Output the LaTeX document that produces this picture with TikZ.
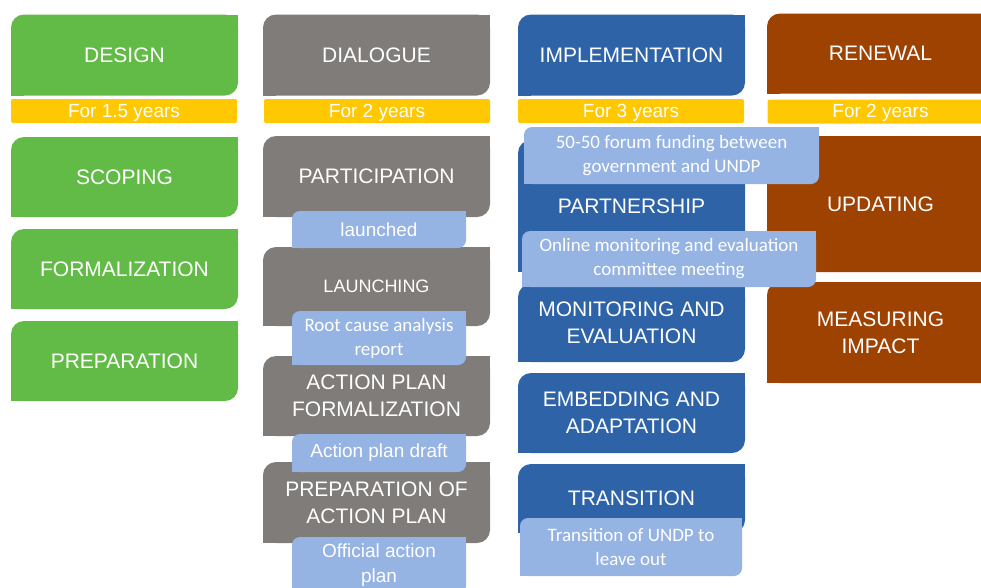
\documentclass[tikz,border=0pt]{standalone}
\usepackage{fontspec}
\setmainfont{Liberation Sans}
\newfontfamily\calib{Carlito}
\definecolor{cgreen}{HTML}{63BB47}
\definecolor{cgray}{HTML}{807C7A}
\definecolor{cblue}{HTML}{2E63A8}
\definecolor{cbrown}{HTML}{9E4202}
\definecolor{cyellow}{HTML}{FFC800}
\definecolor{clight}{HTML}{95B3E3}
\begin{document}
\begin{tikzpicture}[x=1pt,y=-1pt,
  diag/.style 2 args={path picture={
    \fill[#1, rounded corners=#2] (path picture bounding box.south west) rectangle (path picture bounding box.north east);
    \fill[#1] (path picture bounding box.south west) rectangle ++(#2,#2);
    \fill[#1] (path picture bounding box.north east) rectangle ++(-#2,-#2);
  }},
  box/.style={diag={#1}{13pt}, inner sep=0pt, minimum width=227pt, text=white, align=center,
    font=\fontsize{21}{27}\selectfont},
  bar/.style={fill=cyellow, rounded corners=2pt, inner sep=0pt, minimum width=226pt,
    text height=15pt, text depth=3pt, minimum height=24pt,
    text=white, font=\fontsize{19}{23}\selectfont},
  lbl/.style={diag={clight}{8pt}, inner sep=0pt, text=white, align=center,
    font=\fontsize{19}{24}\selectfont},
  clbl/.style={lbl, font=\calib\fontsize{19}{24}\selectfont}
]
\path[use as bounding box, clip] (0,0) rectangle (981,587);

% headers
\node[box=cgreen, minimum height=81pt] (design) at (124.5,55) {DESIGN};
\node[box=cgray, minimum height=81pt] (dialogue) at (376.5,55) {DIALOGUE};
\node[box=cblue, minimum height=81pt] (impl) at (631.5,55) {IMPLEMENTATION};
\node[box=cbrown, minimum height=80pt] (renewal) at (880.5,53.5) {RENEWAL};

% duration bars
\node[bar] (y1) at (124,111) {For 1.5 years};
\node[bar] (y2) at (377,111) {For 2 years};
\node[bar] (y3) at (631,111) {For 3 years};
\node[bar] (y4) at (880.5,111.5) {For 2 years};

% column 1
\node[box=cgreen, minimum height=80pt] (scoping) at (124.5,177) {SCOPING};
\node[box=cgreen, minimum height=80pt] (formal) at (124.5,269) {FORMALIZATION};
\node[box=cgreen, minimum height=80pt] (prep) at (124.5,361) {PREPARATION};

% column 2
\node[box=cgray, minimum height=81pt] (partic) at (376.5,176.5) {PARTICIPATION};
\node[box=cgray, minimum height=79pt, font=\fontsize{18}{23}\selectfont] (launch) at (376.5,286.5) {LAUNCHING};
\node[box=cgray, minimum height=80pt] (apf) at (376.5,396) {ACTION PLAN\\FORMALIZATION};
\node[box=cgray, minimum height=81pt] (prepap) at (376.5,502.5) {PREPARATION OF\\ACTION PLAN};

% column 3
\node[box=cblue, minimum height=132pt] (partner) at (631.5,206) {PARTNERSHIP};
\node[box=cblue, minimum height=78pt] (monitor) at (631.5,323) {MONITORING AND\\EVALUATION};
\node[box=cblue, minimum height=80pt] (embed) at (631.5,413) {EMBEDDING AND\\ADAPTATION};
\node[box=cblue, minimum height=69pt] (trans) at (631.5,498.5) {TRANSITION};

% column 4
\node[box=cbrown, minimum height=136pt] (update) at (880.5,204) {UPDATING};
\node[box=cbrown, minimum height=101pt] (measure) at (880.5,332.5) {MEASURING\\IMPACT};

% labels column 2
\node[lbl, minimum width=174pt, minimum height=37pt] (l1) at (379,229.5) {launched};
\node[clbl, minimum width=174pt, minimum height=54pt] (l2) at (379,338) {Root cause analysis\\report};
\node[lbl, minimum width=174pt, minimum height=38pt] (l3) at (379,453) {Action plan draft};
\node[lbl, minimum width=174pt, minimum height=57pt, font=\fontsize{19}{25}\selectfont] (l4) at (379,565.5) {Official action\\plan};

% labels column 3
\node[clbl, minimum width=295pt, minimum height=57pt] (l5) at (671.5,155.5) {50-50 forum funding between\\government and UNDP};
\node[clbl, minimum width=294pt, minimum height=56pt] (l6) at (669,259) {Online monitoring and evaluation\\committee meeting};
\node[clbl, minimum width=222pt, minimum height=58pt] (l7) at (631,547) {Transition of UNDP to\\leave out};
\end{tikzpicture}
\end{document}
